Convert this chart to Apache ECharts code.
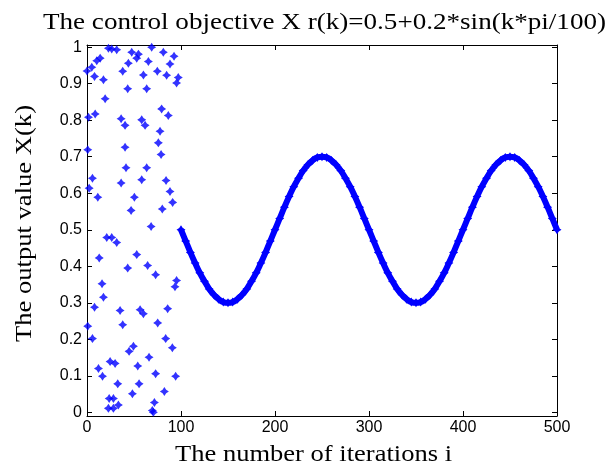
<!DOCTYPE html>
<html><head><meta charset="utf-8">
<script src="https://cdn.jsdelivr.net/npm/echarts@6/dist/echarts.min.js"></script>
<style>html,body{margin:0;padding:0;background:#fff}#c{width:608px;height:468px}</style>
</head><body><div id="c"></div>
<script>
// chaotic phase (k = 0..100): [k, X]
var chaoticPoints = [
[0,0.935],[0.8,0.719],[0.8,0.236],[1.6,0.808],[2.3,0.614],[5.1,0.945],[5.8,0.641],[5.8,0.202],
[8,0.92],[8,0.288],[8.7,0.817],[10.4,0.963],[11.5,0.589],[12.2,0.12],[13,0.423],[14,0.97],
[16,0.352],[16.5,0.099],[17.5,0.911],[17.5,0.315],[19.3,0.859],[21,0.479],[22.8,0.997],[22.8,0.011],
[23.6,0.038],[24.6,0.139],[26.3,0.995],[26.3,0.479],[28.1,0.038],[28.1,0.011],[29.9,0.134],[31.6,0.993],
[31.6,0.465],[32.7,0.078],[33.4,0.02],[35.2,0.279],[36.3,0.804],[36.3,0.628],[38,0.934],[38,0.24],
[40.5,0.786],[40.5,0.726],[41.5,0.67],[43.3,0.886],[43.3,0.395],[44,0.956],[44.8,0.167],[46.9,0.553],
[47.6,0.986],[48.3,0.051],[49.4,0.181],[50.4,0.589],[52.9,0.97],[52.9,0.432],[54,0.127],[54.7,0.981],
[55.4,0.078],[56.5,0.281],[58.2,0.801],[58.2,0.637],[60,0.924],[60,0.27],[61.8,0.786],[63.5,0.886],
[63.5,0.67],[64.5,0.402],[65.3,0.961],[66,0.151],[68.2,0.509],[68.8,1.0],[69.5,0.005],[70.6,0.0],
[71.7,0.027],[73,0.377],[73,0.106],[74.8,0.934],[75.2,0.245],[75.9,0.738],[77.7,0.77],[78.8,0.706],
[79.4,0.831],[80.1,0.557],[81.2,0.986],[82.3,0.057],[83.7,0.202],[84.1,0.635],[84.7,0.923],[85.8,0.284],
[86.5,0.813],[88.3,0.954],[88.3,0.605],[90.8,0.177],[91.1,0.575],[92.6,0.975],[93.6,0.344],[94.3,0.099],
[95.3,0.902],[95.3,0.361],[97.1,0.917]
];
// tracking phase, k = 100..500 every 5 iterations
var trackK = [];
var trackX = [
0.500,0.469,0.438,0.409,0.382,0.359,0.338,0.322,0.310,0.302,0.300,0.302,0.310,0.322,0.338,0.359,0.382,0.409,0.438,0.469,
0.500,0.531,0.562,0.591,0.618,0.641,0.662,0.678,0.690,0.698,0.700,0.698,0.690,0.678,0.662,0.641,0.618,0.591,0.562,0.531,
0.500,0.469,0.438,0.409,0.382,0.359,0.338,0.322,0.310,0.302,0.300,0.302,0.310,0.322,0.338,0.359,0.382,0.409,0.438,0.469,
0.500,0.531,0.562,0.591,0.618,0.641,0.662,0.678,0.690,0.698,0.700,0.698,0.690,0.678,0.662,0.641,0.618,0.591,0.562,0.531,
0.500
];
for (var i = 0; i < trackX.length; i++) trackK.push(100 + 5 * i);
var xTicks = [0,100,200,300,400,500];
var yTickValues = [0,0.1,0.2,0.3,0.4,0.5,0.6,0.7,0.8,0.9,1];
var yTicks = ['0','0.1','0.2','0.3','0.4','0.5','0.6','0.7','0.8','0.9','1'];
var titleText = 'The control objective X r(k)=0.5+0.2*sin(k*pi/100)';
var xName = 'The number of iterations i';
var yName = 'The output value X(k)';

var SERIF = '23px "Liberation Serif"';
var ctx = document.createElement('canvas').getContext('2d');
function stretch(text, target){ ctx.font = SERIF; return target / ctx.measureText(text).width; }

var star = 'path://M0,-5 L2,-2 L5,0 L2,2 L0,5 L-2,2 L-5,0 L-2,-2 Z';
var trackData = trackK.map(function(k, i){ return [k, trackX[i]]; });
var chart = echarts.init(document.getElementById('c'));
var line = {show:true,onZero:false,lineStyle:{color:'#000',width:1}};
var tick = {show:true,inside:true,length:5,lineStyle:{color:'#000'}};
var ytick = {show:true,inside:true,length:5,lineStyle:{color:'#000'},customValues:yTickValues};
var tickFont = {fontFamily:'Liberation Sans',fontSize:16,color:'#000'};
chart.setOption({
  animation:false,
  backgroundColor:'#fff',
  grid:{left:87,right:51,top:45,bottom:52},
  xAxis:[
    {type:'value',min:0,max:500,interval:100,position:'bottom',axisLine:line,axisTick:tick,splitLine:{show:false},
      axisLabel:Object.assign({margin:4,formatter:function(v){return xTicks.indexOf(v)>=0?String(v):'';}}, tickFont)},
    {type:'value',min:0,max:500,interval:100,position:'top',axisLine:line,axisTick:tick,splitLine:{show:false},axisLabel:{show:false}}
  ],
  yAxis:[
    {type:'value',min:-0.01,max:1.006,position:'left',axisLine:line,axisTick:ytick,splitLine:{show:false},
      axisLabel:Object.assign({margin:5,customValues:yTickValues,
        formatter:function(v){return yTicks[Math.round(v*10)];}}, tickFont)},
    {type:'value',min:-0.01,max:1.006,position:'right',axisLine:line,axisTick:ytick,splitLine:{show:false},axisLabel:{show:false}}
  ],
  graphic:[
    {type:'text',x:324.5,y:22.5,scaleX:stretch(titleText,563),
      style:{text:titleText,font:SERIF,fill:'#000',align:'center',verticalAlign:'middle'}},
    {type:'text',x:313.5,y:455,scaleX:stretch(xName,277),
      style:{text:xName,font:SERIF,fill:'#000',align:'center',verticalAlign:'middle'}},
    {type:'text',x:25,y:223.5,rotation:Math.PI/2,scaleX:stretch(yName,237),
      style:{text:yName,font:SERIF,fill:'#000',align:'center',verticalAlign:'middle'}}
  ],
  series:[
    {type:'scatter',data:chaoticPoints,symbol:star,symbolSize:9,itemStyle:{color:'#0000ff'}},
    {type:'line',data:trackData,smooth:true,symbol:star,symbolSize:9,showSymbol:true,
      lineStyle:{color:'#0000ff',width:6},itemStyle:{color:'#0000ff'}}
  ]
});
</script></body></html>
